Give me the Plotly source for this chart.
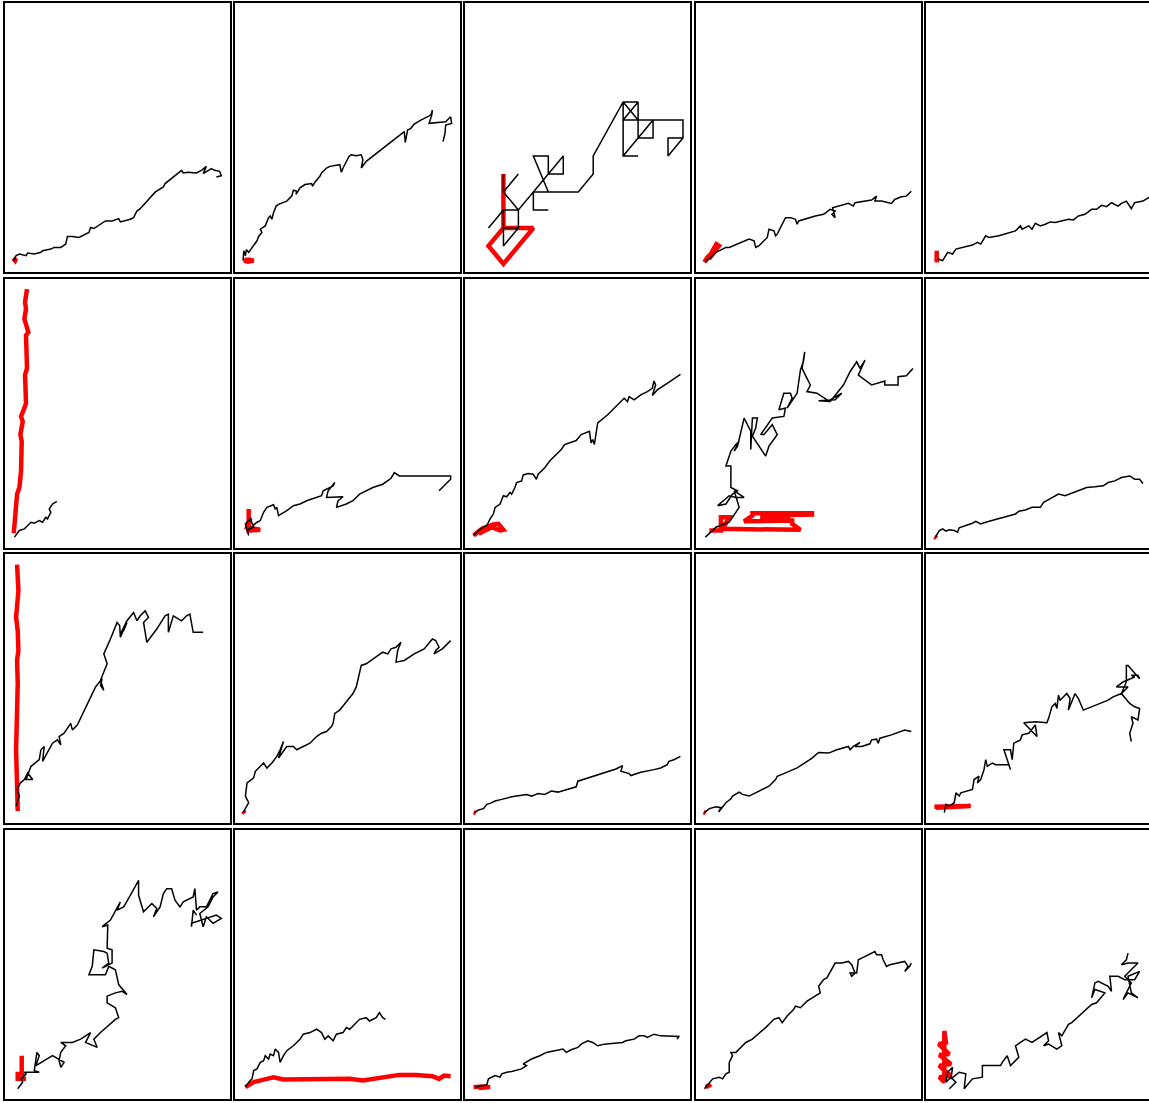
import plotly.graph_objects as go

# ---------------- data ----------------
# Each panel: a black path and a red (thick) path, as (x, y) points.
black_r0c0 = [(28,35),(35,50),(45,55),(65,50),(70,58),(90,55),(110,60),(115,65),(140,70),(150,75),(170,75),(185,85),(190,108),(205,108),(225,105),(255,120),(260,135),(270,132),(305,155),(325,155),(345,162),(350,152),(380,160),(390,165),(400,185),(410,192),(455,242),(480,258),(485,268),(520,295),(535,308),(540,300),(555,302),(580,300),(595,308),(610,320),(600,298),(625,313),(635,308),(650,305),(655,292),(640,288)]
red_r0c0 = [(26,42),(32,35),(35,42),(30,38)]

black_r0c1 = [(25,35),(27,65),(32,50),(35,68),(42,60),(57,80),(67,95),(72,108),(82,120),(77,130),(92,140),(102,165),(107,170),(112,160),(117,180),(125,200),(132,205),(157,215),(172,230),(177,248),(187,245),(185,235),(197,255),(212,265),(232,268),(235,260),(242,272),(257,290),(262,300),(277,315),(287,320),(317,325),(322,302),(327,315),(345,350),(352,355),(367,352),(382,355),(387,340),(382,315),(392,330),(397,335),(512,425),(515,392),(522,430),(532,435),(542,448),(562,460),(592,475),(597,490),(595,475),(587,450),(637,455),(652,470),(655,450),(637,445),(635,420),(629,395)]
red_r0c1 = [(27,35),(40,32),(57,35),(45,38),(30,38)]

# lattice walk (grid units)
black_r0c2 = [(1,2),(1,1),(2,2),(1,2),(1,3),(0,2),(1,3),(2,3),(2,2),(2,3),(1,4),(2,5),(1,4),(1,5),(1,4),(2,3),(3,4),(3,3),(4,3),(3,3),(3,4),(4,5),(5,6),(5,5),(4,5),(4,6),(3,6),(4,4),(3,4),(6,4),(7,5),(7,6),(9,9),(10,9),(9,8),(9,9),(10,8),(10,9),(10,8),(9,8),(9,6),(10,6),(9,6),(11,8),(11,7),(10,7),(10,8),(13,8),(13,7),(12,6),(12,7),(13,7)]
red_r0c2 = [(1,5),(1,2),(0,1),(1,0),(3,2),(1,2)]

black_r0c3 = [(29,30),(41,40),(51,50),(61,60),(91,75),(101,75),(151,95),(161,100),(176,95),(181,75),(191,80),(216,105),(221,130),(236,125),(241,110),(246,115),(271,165),(286,165),(301,160),(306,145),(311,155),(361,170),(386,175),(406,190),(421,185),(411,175),(421,165),(413,195),(461,208),(476,200),(481,210),(531,218),(546,230),(541,215),(561,215),(591,208),(601,220),(621,228),(636,230),(651,245)]
red_r0c3 = [(26,30),(35,45),(45,55),(62,85),(70,80),(58,65),(40,40)]

black_r0c4 = [(35,40),(50,35),(65,60),(80,55),(90,70),(110,75),(125,80),(140,82),(155,90),(165,85),(180,110),(190,105),(220,110),(250,120),(270,125),(285,140),(290,130),(310,140),(320,130),(330,148),(345,140),(360,145),(375,152),(390,150),(410,155),(430,160),(445,158),(460,170),(480,175),(500,190),(515,190),(530,202),(545,198),(560,210),(580,200),(590,208),(605,215),(620,192),(630,210),(655,215),(680,230)]
red_r0c4 = [(32,65),(32,30),(34,45)]

black_r1c0 = [(30,32),(45,52),(60,57),(80,77),(90,74),(105,82),(115,77),(125,92),(130,87),(140,107),(135,117),(145,132),(158,140)]
red_r1c0 = [(28,44),(32,82),(38,162),(45,182),(50,232),(52,322),(48,342),(55,382),(50,397),(60,422),(65,437),(62,522),(68,542),(65,642),(72,652),(60,692),(65,722),(62,742),(68,782)]

black_r1c1 = [(42,37),(32,72),(47,87),(57,62),(37,52),(67,77),(77,82),(87,107),(97,122),(117,130),(122,117),(127,122),(132,97),(157,112),(177,127),(197,132),(217,142),(242,150),(262,157),(267,172),(297,187),(302,197),(282,172),(277,152),(327,154),(312,142),(307,122),(337,132),(357,142),(377,162),(397,172),(417,182),(447,192),(472,210),(482,227),(497,217),(512,217),(652,217),(652,207),(617,172)]
red_r1c1 = [(42,117),(42,52),(77,54),(37,62),(47,92)]

black_r1c2 = [(25,37),(40,52),(55,62),(65,67),(75,87),(85,102),(90,122),(105,132),(115,157),(125,154),(135,167),(140,162),(150,182),(155,197),(170,202),(175,220),(190,224),(205,222),(215,207),(220,222),(240,242),(255,262),(270,277),(290,297),(300,312),(320,320),(335,324),(350,342),(375,352),(380,317),(385,327),(390,312),(395,352),(400,377),(430,402),(460,432),(480,452),(490,442),(495,457),(510,447),(530,462),(550,472),(565,482),(570,504),(575,492),(565,460),(580,477),(610,497),(650,524)]
red_r1c2 = [(25,37),(50,57),(85,70),(100,72),(115,54),(105,52),(80,62),(40,42)]

black_r1c3 = [(29,32),(61,62),(101,77),(131,122),(116,172),(146,152),(121,152),(101,157),(66,127),(91,132),(111,162),(126,172),(106,182),(106,247),(91,247),(106,292),(121,312),(131,322),(116,292),(126,307),(146,392),(166,352),(166,297),(171,392),(186,392),(181,362),(171,337),(211,277),(221,307),(246,342),(231,372),(206,342),(196,342),(231,392),(266,397),(271,422),(251,417),(266,467),(286,467),(291,452),(276,422),(306,467),(316,537),(326,567),(329,592),(321,542),(331,522),(346,492),(336,472),(366,467),(401,444),(441,467),(421,447),(371,444),(406,442),(446,492),(466,532),(486,562),(496,542),(511,567),(491,522),(531,492),(571,504),(571,492),(611,492),(611,517),(636,520),(656,542)]
red_r1c3 = [(41,52),(76,52),(76,92),(101,92),(81,57),(316,54),(291,72),(291,82),(146,80),(171,97),(171,104),(351,104),(351,100),(201,97),(201,84),(261,84),(261,97),(286,94)]

black_r1c4 = [(28,32),(40,52),(50,57),(60,50),(70,54),(85,52),(95,47),(100,60),(120,67),(140,74),(150,80),(165,72),(180,77),(200,84),(215,87),(235,92),(250,97),(270,102),(280,110),(300,114),(320,122),(345,122),(355,137),(380,150),(400,162),(420,157),(440,164),(460,172),(485,182),(510,184),(535,187),(550,197),(570,202),(590,212),(615,217),(630,207),(645,207),(655,194)]
red_r1c4 = [(28,34),(30,30),(25,32)]

black_r2c0 = [(35,52),(45,82),(38,102),(48,122),(60,132),(70,152),(85,132),(65,132),(80,172),(105,192),(110,222),(120,232),(115,187),(135,222),(145,242),(160,252),(170,237),(165,262),(180,272),(200,302),(205,282),(220,297),(250,362),(275,412),(295,437),(290,417),(300,402),(290,432),(310,482),(300,512),(320,557),(340,607),(348,597),(350,562),(370,607),(360,582),(350,572),(370,612),(390,637),(400,612),(410,627),(425,642),(435,622),(420,607),(430,547),(460,587),(485,627),(495,632),(495,577),(510,627),(535,612),(550,627),(560,632),(570,577),(590,577),(600,577)]
red_r2c0 = [(40,37),(38,122),(35,222),(40,422),(38,492),(42,522),(40,582),(35,622),(42,702),(38,782)]

black_r2c1 = [(25,32),(37,52),(42,62),(32,82),(37,122),(57,137),(62,157),(87,182),(97,167),(112,182),(122,197),(127,202),(137,222),(147,247),(132,197),(157,232),(177,232),(187,222),(227,242),(247,262),(262,272),(277,277),(292,292),(297,302),(302,332),(317,342),(337,367),(357,392),(367,412),(372,437),(377,462),(382,477),(397,482),(427,502),(447,517),(462,512),(472,527),(487,532),(502,547),(492,522),(487,487),(512,492),(542,512),(572,527),(597,557),(607,552),(617,532),(607,522),(602,512),(627,527),(652,552)]
red_r2c1 = [(27,34),(30,30),(24,36)]

black_r2c2 = [(28,32),(40,40),(55,44),(65,57),(75,60),(90,67),(110,72),(140,80),(165,84),(185,87),(200,82),(220,90),(240,87),(260,97),(280,94),(310,104),(335,110),(340,127),(370,137),(400,147),(420,154),(455,164),(475,174),(470,157),(495,150),(500,144),(530,154),(550,157),(570,162),(590,167),(610,177),(615,187),(630,192),(650,202)]
red_r2c2 = [(28,34),(31,31),(25,33)]

black_r2c3 = [(26,32),(41,44),(61,50),(76,47),(69,34),(91,62),(106,74),(111,82),(131,94),(141,87),(161,82),(181,92),(206,107),(221,112),(241,132),(246,142),(266,150),(291,162),(306,167),(341,190),(351,197),(371,214),(401,212),(426,222),(461,232),(466,222),(476,232),(496,244),(481,232),(501,232),(526,240),(531,252),(546,254),(551,242),(556,257),(591,267),(626,280),(631,282),(651,277)]
red_r2c3 = [(26,34),(29,31),(23,33)]

black_r2c4 = [(55,32),(60,57),(70,52),(85,62),(90,92),(100,82),(105,92),(140,102),(145,132),(160,142),(155,122),(165,132),(175,162),(180,192),(185,172),(200,182),(210,177),(250,177),(255,162),(235,222),(255,222),(260,192),(265,242),(285,252),(290,267),(310,272),(330,297),(335,262),(295,304),(330,307),(365,304),(370,317),(380,352),(390,362),(395,347),(400,387),(405,372),(425,392),(435,377),(430,342),(450,392),(460,377),(475,342),(510,357),(550,372),(565,382),(590,392),(610,412),(575,412),(595,427),(630,442),(620,447),(640,447),(645,437),(610,477),(605,477),(605,427),(590,392),(615,362),(630,352),(645,347),(640,312),(620,322),(625,302),(615,272),(620,247)]
red_r2c4 = [(25,50),(75,50),(135,52),(30,47)]

black_r3c0 = [(40,30),(55,50),(50,60),(65,75),(60,80),(105,80),(90,85),(98,140),(105,130),(95,100),(145,130),(180,110),(170,95),(165,115),(170,140),(185,160),(170,170),(205,170),(230,180),(260,200),(245,170),(280,155),(270,180),(290,200),(335,240),(345,245),(335,275),(310,290),(310,310),(335,320),(355,325),(370,315),(345,345),(335,390),(315,400),(305,375),(255,375),(265,400),(270,450),(300,445),(310,440),(315,410),(295,395),(325,410),(325,450),(310,455),(312,525),(295,520),(320,540),(330,560),(345,590),(350,595),(340,570),(360,580),(380,615),(405,660),(405,615),(420,565),(445,590),(460,575),(450,550),(470,580),(480,620),(490,635),(505,635),(515,600),(530,580),(540,595),(570,610),(575,635),(580,570),(590,580),(610,580),(630,620),(645,625),(630,610),(615,580),(590,560),(600,520),(610,550),(630,530),(655,545),(640,555),(565,530),(565,520),(570,570),(580,555)]
red_r3c0 = [(52,130),(52,75),(40,75),(40,60),(65,60)]

black_r3c1 = [(32,35),(42,50),(52,60),(57,85),(67,90),(77,110),(87,115),(92,130),(102,120),(107,135),(117,130),(122,150),(132,140),(137,110),(147,130),(157,145),(177,160),(197,180),(207,195),(227,200),(247,210),(262,200),(272,180),(282,190),(297,175),(307,195),(327,200),(337,215),(347,210),(362,225),(377,240),(397,245),(407,235),(427,245),(437,260),(447,245),(455,240)]
red_r3c1 = [(32,35),(57,50),(97,60),(117,65),(147,58),(167,58),(197,60),(247,58),(297,58),(347,60),(387,55),(417,60),(457,68),(497,72),(547,72),(597,68),(617,60),(632,70),(652,68)]

black_r3c2 = [(30,35),(50,38),(65,42),(70,60),(90,70),(105,65),(110,75),(125,80),(140,82),(170,90),(185,100),(175,105),(200,120),(225,130),(245,140),(270,145),(295,150),(305,140),(320,148),(340,155),(350,165),(370,175),(385,170),(400,160),(420,165),(450,168),(475,170),(485,175),(510,180),(525,190),(540,190),(550,185),(570,195),(590,190),(620,190),(645,188),(640,180)]
red_r3c2 = [(25,35),(50,37),(75,35),(40,32)]

black_r3c3 = [(26,30),(41,50),(51,60),(71,65),(81,60),(91,75),(101,80),(101,110),(111,130),(106,140),(121,140),(141,160),(151,170),(171,180),(181,190),(191,198),(211,215),(236,240),(251,245),(261,230),(276,250),(296,270),(301,280),(316,275),(336,295),(351,305),(376,320),(371,340),(386,360),(396,365),(411,390),(421,410),(441,410),(461,415),(471,405),(481,380),(471,370),(466,380),(486,380),(491,420),(501,425),(541,445),(546,435),(561,435),(566,420),(576,400),(586,405),(631,415),(641,400),(631,385),(646,400),(651,410)]
red_r3c3 = [(36,45),(40,40),(30,35)]

black_r3c4 = [(70,30),(90,50),(75,65),(60,50),(65,80),(80,95),(75,60),(100,80),(120,75),(115,30),(140,60),(170,65),(170,100),(225,100),(230,110),(245,130),(255,100),(280,125),(270,160),(300,180),(320,170),(365,200),(370,175),(355,160),(370,165),(395,150),(410,160),(400,200),(410,190),(430,225),(440,230),(500,285),(515,290),(530,310),(540,320),(510,330),(500,305),(510,350),(520,355),(550,340),(560,325),(555,370),(580,370),(600,360),(630,360),(645,385),(610,370),(620,320),(640,305),(610,320),(595,300),(620,350),(600,370),(640,410),(610,410),(590,405),(605,420),(610,440)]
red_r3c4 = [(55,205),(55,50),(40,65),(75,70),(55,85),(40,100),(75,105),(55,120),(40,132),(70,135),(55,150),(38,165),(60,170),(55,205)]

panels = [
    [(black_r0c0, red_r0c0), (black_r0c1, red_r0c1), (black_r0c2, red_r0c2), (black_r0c3, red_r0c3), (black_r0c4, red_r0c4)],
    [(black_r1c0, red_r1c0), (black_r1c1, red_r1c1), (black_r1c2, red_r1c2), (black_r1c3, red_r1c3), (black_r1c4, red_r1c4)],
    [(black_r2c0, red_r2c0), (black_r2c1, red_r2c1), (black_r2c2, red_r2c2), (black_r2c3, red_r2c3), (black_r2c4, red_r2c4)],
    [(black_r3c0, red_r3c0), (black_r3c1, red_r3c1), (black_r3c2, red_r3c2), (black_r3c3, red_r3c3), (black_r3c4, red_r3c4)],
]

# axis ranges per panel (default), lattice panel has its own
default_xrange = (0, 680)
default_yrange = (0, 813)
special_ranges = {(0, 2): ((-1.549, 13.496), (-0.46, 14.485))}

# ---------------- layout ----------------
W, H = 1149, 1103
LW = 1.6                      # border line width (drawn just outside the domain)
col_left = [3.7, 234.0, 464.5, 695.0, 925.3]   # border centre lines
panel_w = 226.7
row_top = [2.5, 278.0, 553.5, 829.0]
panel_h = 270.5

fig = go.Figure()
layout = dict(
    width=W, height=H,
    margin=dict(l=0, r=0, t=0, b=0),
    paper_bgcolor="white", plot_bgcolor="white",
    showlegend=False,
)

k = 0
for r in range(4):
    for c in range(5):
        k += 1
        xr, yr = special_ranges.get((r, c), (default_xrange, default_yrange))
        xr = list(xr)
        bx0 = col_left[c] + LW / 2
        bx1 = col_left[c] + panel_w - LW / 2
        if bx1 > W:
            frac = (W - bx0) / (bx1 - bx0)
            xr[1] = xr[0] + (xr[1] - xr[0]) * frac
            bx1 = W
        by0 = row_top[r] + LW / 2
        by1 = row_top[r] + panel_h - LW / 2
        xname = "xaxis" if k == 1 else f"xaxis{k}"
        yname = "yaxis" if k == 1 else f"yaxis{k}"
        xid = "x" if k == 1 else f"x{k}"
        yid = "y" if k == 1 else f"y{k}"
        common = dict(showgrid=False, zeroline=False, showticklabels=False, ticks="",
                      showline=True, linecolor="black", linewidth=LW, fixedrange=True)
        layout[xname] = dict(domain=[bx0 / W, bx1 / W], range=xr, anchor=yid, mirror=True, **common)
        layout[yname] = dict(domain=[1 - by1 / H, 1 - by0 / H], range=list(yr), anchor=xid,
                             mirror=(c != 4), **common)
        black, red = panels[r][c]
        fig.add_trace(go.Scatter(x=[p[0] for p in red], y=[p[1] for p in red], mode="lines",
                                 line=dict(color="red", width=4.5), xaxis=xid, yaxis=yid,
                                 hoverinfo="skip"))
        fig.add_trace(go.Scatter(x=[p[0] for p in black], y=[p[1] for p in black], mode="lines",
                                 line=dict(color="black", width=1.5), xaxis=xid, yaxis=yid,
                                 hoverinfo="skip"))

fig.update_layout(**layout)
fig.write_html("out.html", config={"displayModeBar": False},
               post_script="document.body.style.margin='0px';")
